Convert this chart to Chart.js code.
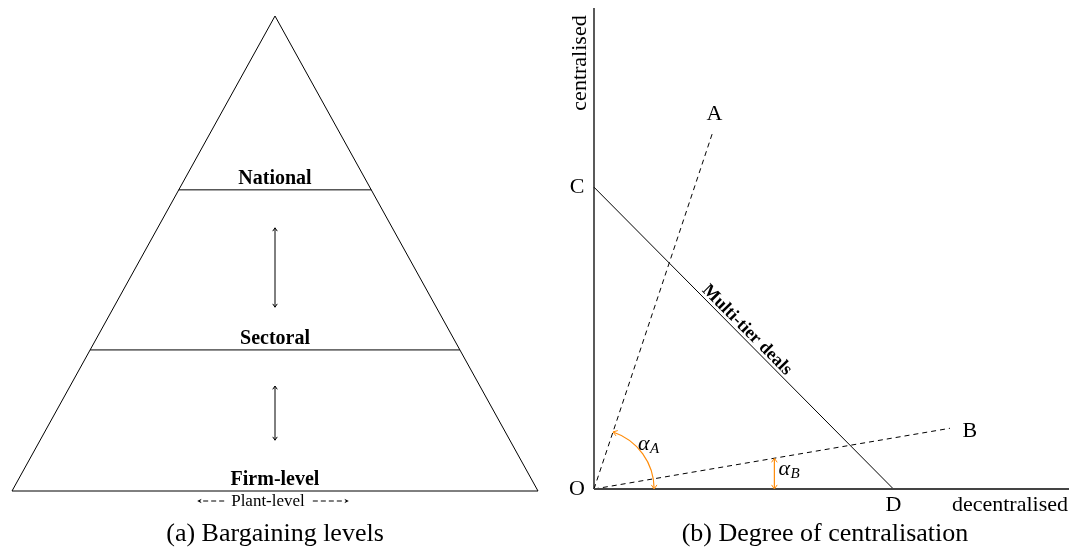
<!DOCTYPE html>
<html>
<head>
<meta charset="utf-8">
<script src="https://cdn.jsdelivr.net/npm/chart.js@4.4.1/dist/chart.umd.min.js"></script>
<style>
  body { margin: 0; background: #fff; }
  #levels { position: absolute; left: 0; top: 0; }
  #centralisation { position: absolute; left: 550px; top: 0; }
</style>
</head>
<body>
<canvas id="levels" width="550" height="555"></canvas>
<canvas id="centralisation" width="519" height="555"></canvas>
<script>
// (a) bargaining levels
var levelNames = ['Firm-level', 'Sectoral', 'National'];
var levelHeights = [0, 2.97, 6.34];
var apexHeight = 10;
var baseHalfWidth = 5.54;
var arrowSpans = [[1.07, 2.21], [3.87, 5.54]];
var plantLabel = 'Plant-level';

// (b) degree of centralisation
var pointNames = ['A', 'B', 'C', 'D'];
var pointX = [1.97, 5.92, 0, 4.98];
var pointY = [5.92, 1.01, 5.02, 0];
var axisLength = 8;
var alphaAArc = 1;     // radius of the angle mark for A
var alphaBAt = 3;      // x where the angle mark for B sits
var axisNames = ['decentralised', 'centralised'];
var lineName = 'Multi-tier deals';
var captions = ['(a) Bargaining levels', '(b) Degree of centralisation'];

var serif = '"Liberation Serif", "Times New Roman", serif';
var orange = 'rgb(255,140,10)';

function halfWidthAt(h) {
  return baseHalfWidth * (1 - h / apexHeight);
}

function seg(data, color, width, dash) {
  return {
    data: data,
    showLine: true,
    borderColor: color || '#000',
    borderWidth: width || 1,
    borderDash: dash || [],
    pointRadius: 0,
    clip: false,
    fill: false
  };
}

function head(ctx, x, y, ang, size, color) {
  // small open barbs, tip at (x,y), pointing in direction ang
  ctx.save();
  ctx.strokeStyle = color;
  ctx.lineWidth = 1;
  ctx.beginPath();
  ctx.moveTo(x - size * Math.cos(ang - 0.6), y - size * Math.sin(ang - 0.6));
  ctx.lineTo(x, y);
  ctx.lineTo(x - size * Math.cos(ang + 0.6), y - size * Math.sin(ang + 0.6));
  ctx.stroke();
  ctx.restore();
}

function solidHead(ctx, x, y, ang, size) {
  ctx.save();
  ctx.fillStyle = '#000';
  ctx.beginPath();
  ctx.moveTo(x, y);
  ctx.lineTo(x - size * Math.cos(ang - 0.45), y - size * Math.sin(ang - 0.45));
  ctx.lineTo(x - size * 0.6 * Math.cos(ang), y - size * 0.6 * Math.sin(ang));
  ctx.lineTo(x - size * Math.cos(ang + 0.45), y - size * Math.sin(ang + 0.45));
  ctx.closePath();
  ctx.fill();
  ctx.restore();
}

// ---------- left chart ----------
var leftSets = [];
leftSets.push(seg([
  {x: -baseHalfWidth, y: 0}, {x: 0, y: apexHeight},
  {x: baseHalfWidth, y: 0}, {x: -baseHalfWidth, y: 0}
]));
levelHeights.forEach(function (h) {
  if (h > 0) {
    leftSets.push(seg([{x: -halfWidthAt(h), y: h}, {x: halfWidthAt(h), y: h}]));
  }
});
arrowSpans.forEach(function (s) {
  leftSets.push(seg([{x: 0, y: s[0]}, {x: 0, y: s[1]}]));
});

var levelText = {
  id: 'levelText',
  afterDatasetsDraw: function (chart) {
    var ctx = chart.ctx, sx = chart.scales.x, sy = chart.scales.y;
    var cx = sx.getPixelForValue(0);
    ctx.save();
    ctx.fillStyle = '#000';
    ctx.textAlign = 'center';
    ctx.textBaseline = 'alphabetic';
    ctx.font = 'bold 20px ' + serif;
    levelNames.forEach(function (name, i) {
      ctx.fillText(name, cx, sy.getPixelForValue(levelHeights[i]) - 6);
    });
    arrowSpans.forEach(function (s) {
      head(ctx, cx, sy.getPixelForValue(s[0]), Math.PI / 2, 4, '#000');
      head(ctx, cx, sy.getPixelForValue(s[1]), -Math.PI / 2, 4, '#000');
    });

    // plant-level with dashed arrows
    var by = sy.getPixelForValue(0) + 15;
    ctx.font = '17px ' + serif;
    var tx = cx - 7;
    var w = ctx.measureText(plantLabel).width;
    ctx.fillText(plantLabel, tx, by);
    var ay = by - 5;
    ctx.strokeStyle = '#000';
    ctx.lineWidth = 1;
    ctx.setLineDash([5, 3]);
    ctx.beginPath();
    ctx.moveTo(tx - w / 2 - 7, ay);
    ctx.lineTo(tx - w / 2 - 30, ay);
    ctx.moveTo(tx + w / 2 + 8, ay);
    ctx.lineTo(tx + w / 2 + 40, ay);
    ctx.stroke();
    ctx.setLineDash([]);
    solidHead(ctx, tx - w / 2 - 34, ay, Math.PI, 5);
    solidHead(ctx, tx + w / 2 + 44, ay, 0, 5);

    ctx.font = '26px ' + serif;
    ctx.fillText(captions[0], cx, 541);
    ctx.restore();
  }
};

new Chart(document.getElementById('levels'), {
  type: 'scatter',
  data: { datasets: leftSets },
  options: {
    responsive: false,
    animation: false,
    events: [],
    layout: { padding: { left: 12, right: 12, top: 16, bottom: 64 } },
    plugins: { legend: { display: false }, tooltip: { enabled: false } },
    scales: {
      x: { display: false, min: -baseHalfWidth, max: baseHalfWidth },
      y: { display: false, min: 0, max: apexHeight }
    }
  },
  plugins: [levelText]
});

// ---------- right chart ----------
var rightSets = [];
rightSets.push(seg([{x: 0, y: 0}, {x: axisLength, y: 0}], '#444', 2));
rightSets.push(seg([{x: 0, y: 0}, {x: 0, y: axisLength}], '#000', 1.3));
// O-A and O-B rays
rightSets.push(seg([{x: 0, y: 0}, {x: pointX[0], y: pointY[0]}], '#000', 1, [5, 4]));
rightSets.push(seg([{x: 0, y: 0}, {x: pointX[1], y: pointY[1]}], '#000', 1, [5, 4]));
// C-D
rightSets.push(seg([{x: pointX[2], y: pointY[2]}, {x: pointX[3], y: pointY[3]}]));
// alpha_B marker
rightSets.push(seg([{x: alphaBAt, y: 0}, {x: alphaBAt, y: alphaBAt * pointY[1] / pointX[1]}], orange, 1.2));

var labelOffsets = [[2, -13], [20, 9], [-17, 6], [0, 22]];

var centralText = {
  id: 'centralText',
  afterDatasetsDraw: function (chart) {
    var ctx = chart.ctx, sx = chart.scales.x, sy = chart.scales.y;
    var ox = sx.getPixelForValue(0), oy = sy.getPixelForValue(0);
    ctx.save();
    ctx.fillStyle = '#000';
    ctx.textAlign = 'center';
    ctx.textBaseline = 'alphabetic';
    ctx.font = '22px ' + serif;
    pointNames.forEach(function (n, i) {
      ctx.fillText(n, sx.getPixelForValue(pointX[i]) + labelOffsets[i][0],
                   sy.getPixelForValue(pointY[i]) + labelOffsets[i][1]);
    });
    ctx.fillText('O', ox - 17, oy + 6);

    ctx.textAlign = 'right';
    ctx.fillText(axisNames[0], chart.width - 1, oy + 22);
    ctx.save();
    ctx.translate(ox - 8, chart.chartArea.top + 58);
    ctx.rotate(-Math.PI / 2);
    ctx.textAlign = 'center';
    ctx.fillText(axisNames[1], 0, 0);
    ctx.restore();

    // multi-tier deals along C-D
    var cxp = sx.getPixelForValue(pointX[2]), cyp = sy.getPixelForValue(pointY[2]);
    var dxp = sx.getPixelForValue(pointX[3]), dyp = sy.getPixelForValue(pointY[3]);
    var ang = Math.atan2(dyp - cyp, dxp - cxp);
    ctx.save();
    ctx.translate((cxp + dxp) / 2 - 3, (cyp + dyp) / 2 - 2);
    ctx.rotate(ang);
    ctx.textAlign = 'center';
    ctx.font = 'bold 18px ' + serif;
    ctx.fillText(lineName, 0, -4);
    ctx.restore();

    // alpha_A arc
    var r = sx.getPixelForValue(alphaAArc) - ox;
    var angA = Math.atan2(pointY[0], pointX[0]);
    ctx.strokeStyle = orange;
    ctx.lineWidth = 1.2;
    ctx.beginPath();
    ctx.arc(ox, oy, r, -angA, 0);
    ctx.stroke();
    head(ctx, ox + r * Math.cos(angA), oy - r * Math.sin(angA),
         Math.atan2(-Math.cos(angA), -Math.sin(angA)), 5, orange);
    head(ctx, ox + r, oy, Math.PI / 2, 5, orange);
    var byp = sy.getPixelForValue(alphaBAt * pointY[1] / pointX[1]);
    var bxp = sx.getPixelForValue(alphaBAt);
    head(ctx, bxp, byp, -Math.PI / 2, 5, orange);
    head(ctx, bxp, oy, Math.PI / 2, 5, orange);

    // alpha labels
    ctx.fillStyle = '#000';
    ctx.textAlign = 'left';
    ctx.font = 'italic 22px ' + serif;
    ctx.fillText('\u03b1', ox + 44, oy - 39);
    ctx.fillText('\u03b1', bxp + 4, oy - 14);
    ctx.font = 'italic 15px ' + serif;
    ctx.fillText('A', ox + 56, oy - 36);
    ctx.fillText('B', bxp + 16, oy - 11);

    ctx.textAlign = 'center';
    ctx.font = '26px ' + serif;
    ctx.fillText(captions[1], 275, 541);
    ctx.restore();
  }
};

new Chart(document.getElementById('centralisation'), {
  type: 'scatter',
  data: { datasets: rightSets },
  options: {
    responsive: false,
    animation: false,
    events: [],
    layout: { padding: { left: 44, right: 0, top: 5, bottom: 66 } },
    plugins: { legend: { display: false }, tooltip: { enabled: false } },
    scales: {
      x: { display: false, min: 0, max: 7.9 },
      y: { display: false, min: 0, max: 8.05 }
    }
  },
  plugins: [centralText]
});
</script>
</body>
</html>
